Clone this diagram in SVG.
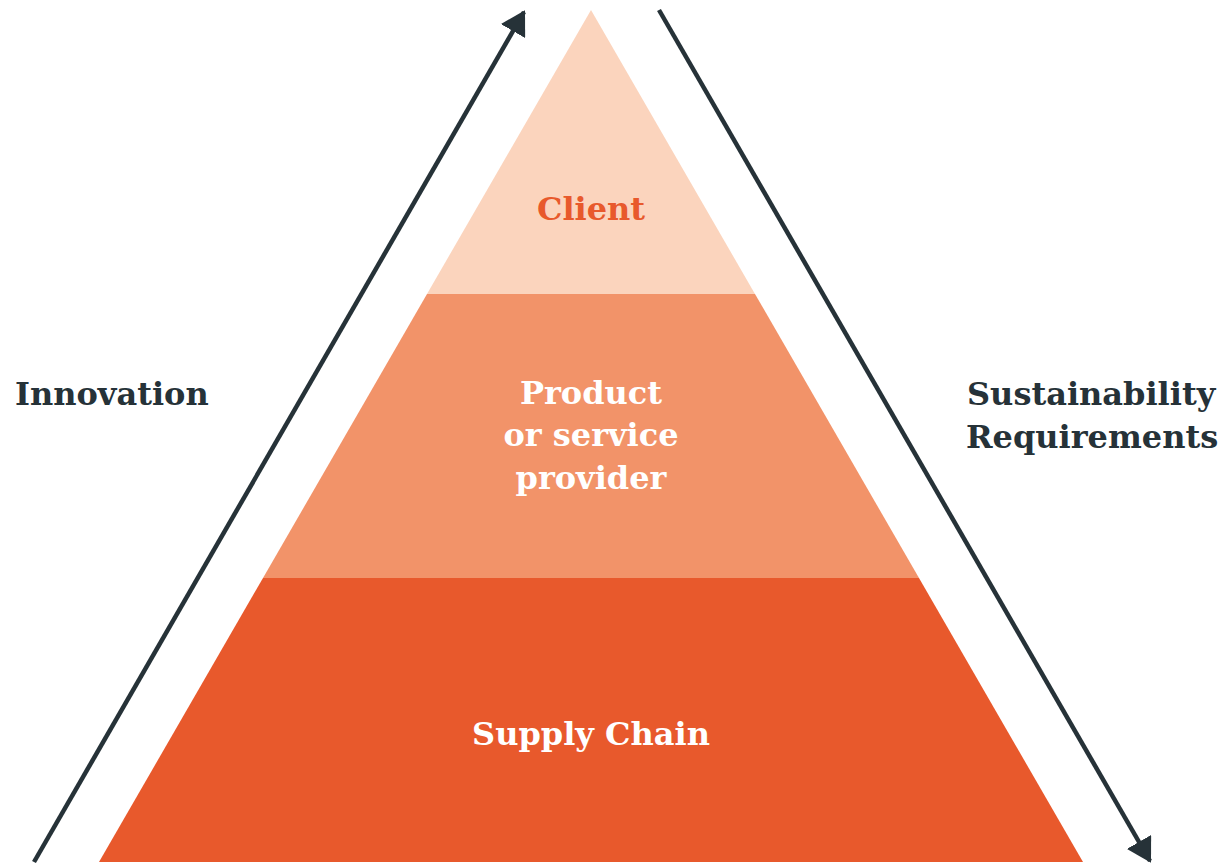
<svg xmlns="http://www.w3.org/2000/svg" width="1227" height="865" viewBox="0 0 1227 865">
<style>
.t{font-family:"DejaVu Serif","Liberation Serif",serif;font-weight:bold;font-size:32px}
.d{fill:#263238}
.w{fill:#ffffff;text-anchor:middle}
.c{fill:#E8592C;text-anchor:middle}
.ln{stroke:#263238;stroke-width:4.5;fill:none}
</style>
<defs>
<marker id="ah" viewBox="0 0 24 28" refX="22" refY="14" markerWidth="24" markerHeight="28" markerUnits="userSpaceOnUse" orient="auto">
<path d="M0,0 L24,14 L0,28 z" fill="#263238"/>
</marker>
</defs>
<rect width="1227" height="865" fill="#ffffff"/>
<g id="tier-client">
<polygon points="591,10 755,294 427,294" fill="#FBD4BD"/>
<text class="t c" x="591" y="220">Client</text>
</g>
<g id="tier-provider">
<polygon points="427,294 755,294 919,578 263,578" fill="#F29369"/>
<text class="t w" x="591" y="404">Product</text>
<text class="t w" x="591" y="446">or service</text>
<text class="t w" x="591" y="489">provider</text>
</g>
<g id="tier-supply">
<polygon points="263,578 919,578 1083,862 99,862" fill="#E8592C"/>
<text class="t w" x="591" y="745">Supply Chain</text>
</g>
<g id="label-innovation">
<text class="t d" x="15" y="405">Innovation</text>
</g>
<g id="label-sustainability">
<text class="t d" x="967" y="405">Sustainability</text>
<text class="t d" x="966" y="448">Requirements</text>
</g>
<g id="connectors">
<line class="ln" x1="34" y1="862" x2="524" y2="12" marker-end="url(#ah)"/>
<line class="ln" x1="659" y1="10" x2="1150" y2="861" marker-end="url(#ah)"/>
</g>
</svg>
